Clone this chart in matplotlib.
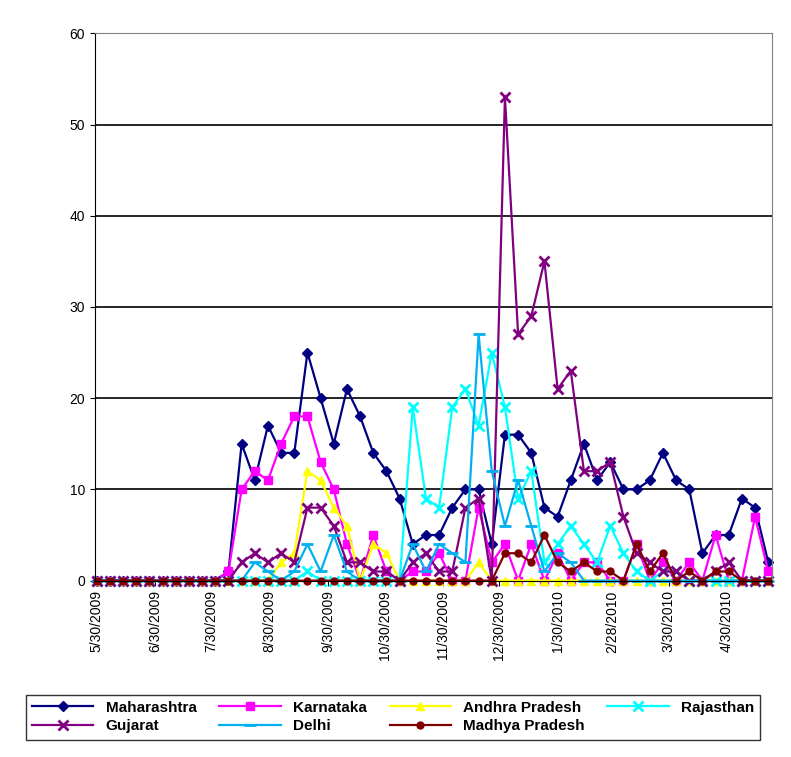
import numpy as np
import pandas as pd
import matplotlib.pyplot as plt
import matplotlib.dates as mdates

weeks = pd.date_range('2009-05-30', periods=52, freq='7D')

def series(start, vals):
    s = [0] * 52
    for i, v in enumerate(vals):
        s[start + i] = v
    return s

maharashtra = series(10, [1, 15, 11, 17, 14, 14, 25, 20, 15, 21, 18, 14, 12, 9, 4, 5, 5, 8, 10, 10,
                          4, 16, 16, 14, 8, 7, 11, 15, 11, 13, 10, 10, 11, 14, 11, 10, 3, 5, 5, 9, 8, 2])
karnataka = series(10, [1, 10, 12, 11, 15, 18, 18, 13, 10, 4, 0, 5, 1, 0, 1, 1, 3, 0, 0, 8,
                        2, 4, 0, 4, 0, 3, 0, 2, 2, 0, 0, 4, 0, 2, 0, 2, 0, 5, 0, 0, 7, 1])
andhra = series(14, [2, 3, 12, 11, 8, 6, 0, 4, 3, 0, 0, 0, 0, 0, 0, 2])
rajasthan = series(16, [1, 0, 0, 0, 0, 0, 0, 0, 19, 9, 8, 19, 21, 17, 25, 19, 9, 12, 2, 4,
                        6, 4, 2, 6, 3, 1, 0, 1, 1])
gujarat = series(11, [2, 3, 2, 3, 2, 8, 8, 6, 2, 2, 1, 1, 0, 2, 3, 1, 1, 8, 9, 0,
                      53, 27, 29, 35, 21, 23, 12, 12, 13, 7, 3, 2, 1, 1, 0, 0, 1, 2])
delhi = series(12, [2, 1, 0, 1, 4, 1, 5, 1, 0, 0, 0, 0, 4, 1, 4, 3, 2, 27, 12, 6,
                    11, 6, 1, 3, 2])
madhya = series(31, [3, 3, 2, 5, 2, 1, 2, 1, 1, 0, 4, 1, 3, 0, 1, 0, 1, 1])

tick_dates = pd.to_datetime(['2009-05-30', '2009-06-30', '2009-07-30', '2009-08-30', '2009-09-30',
                             '2009-10-30', '2009-11-30', '2009-12-30', '2010-01-30', '2010-02-28',
                             '2010-03-30', '2010-04-30'])
tick_labels = [f"{d.month}/{d.day}/{d.year}" for d in tick_dates]

plt.rcParams['font.family'] = ['Liberation Sans', 'DejaVu Sans']
fig = plt.figure(figsize=(7.91, 7.57), dpi=100)
ax = fig.add_axes([0.12, 0.233, 0.856, 0.723])

styles = [
    ('Maharashtra', maharashtra, '#000080', 'D', 5),
    ('Karnataka', karnataka, '#FF00FF', 's', 6),
    ('Andhra Pradesh', andhra, '#FFFF00', '^', 6),
    ('Rajasthan', rajasthan, '#00FFFF', 'x', 7),
    ('Gujarat', gujarat, '#800080', 'x', 7),
    ('Delhi', delhi, '#00B0F0', '_', 8),
    ('Madhya Pradesh', madhya, '#800000', 'o', 5),
]
lines = []
for name, vals, c, m, ms in styles:
    l, = ax.plot(weeks, vals, color=c, marker=m, markersize=ms, lw=1.6, mew=2 if m in 'x_' else 1,
                 label=name, clip_on=False)
    lines.append(l)

ax.set_ylim(0, 60)
ax.set_yticks(range(0, 61, 10))
ax.set_xlim(weeks[0] - pd.Timedelta(days=1), weeks[-1] + pd.Timedelta(days=2))
ax.set_xticks(tick_dates)
ax.set_xticklabels(tick_labels, rotation=90, fontsize=10)
ax.tick_params(axis='y', labelsize=10)
ax.yaxis.grid(True, color='black', lw=1.2)
ax.set_axisbelow(True)
for side in ['top', 'right']:
    ax.spines[side].set_color('#808080')

# legend fills row by row in the reference
order = [0, 4, 1, 5, 2, 6, 3]
leg = fig.legend(handles=[lines[i] for i in order], ncol=4, loc='lower center',
                 bbox_to_anchor=(0.497, 0.013), frameon=True, fancybox=False, edgecolor='black',
                 prop={'weight': 'bold', 'size': 11}, handlelength=4, columnspacing=1.5,
                 borderpad=0.4, labelspacing=0.3)
leg.get_frame().set_linewidth(1)

fig.savefig('out.png', dpi=100)
